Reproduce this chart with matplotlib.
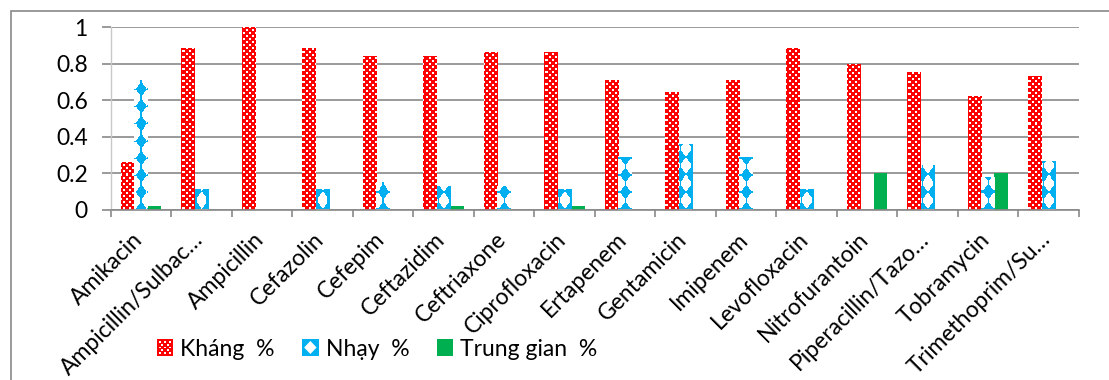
import numpy as np
import matplotlib.pyplot as plt
from matplotlib.patches import Rectangle, Polygon
from matplotlib.legend_handler import HandlerBase
from matplotlib.transforms import ScaledTranslation

# Tỷ lệ kháng / nhạy / trung gian theo từng kháng sinh
drugs = ['Amikacin', 'Ampicillin/Sulbac…', 'Ampicillin', 'Cefazolin', 'Cefepim',
         'Ceftazidim', 'Ceftriaxone', 'Ciprofloxacin', 'Ertapenem', 'Gentamicin',
         'Imipenem', 'Levofloxacin', 'Nitrofurantoin', 'Piperacillin/Tazo…',
         'Tobramycin', 'Trimethoprim/Su…']
khang = [0.26, 0.885, 1.0, 0.888, 0.844, 0.844, 0.866, 0.862, 0.709, 0.643,
         0.709, 0.886, 0.80, 0.756, 0.621, 0.732]
nhay = [0.71, 0.11, 0.0, 0.11, 0.15, 0.13, 0.13, 0.11, 0.29, 0.357,
        0.29, 0.11, 0.0, 0.243, 0.176, 0.265]
trung_gian = [0.02, 0.0, 0.0, 0.0, 0.0, 0.02, 0.0, 0.02, 0.0, 0.0,
              0.0, 0.0, 0.20, 0.0, 0.20, 0.0]
series_labels = ['Kháng  %', 'Nhạy  %', 'Trung gian  %']
y_ticks = [0, 0.2, 0.4, 0.6, 0.8, 1.0]
y_ticklabels = ['0', '0.2', '0.4', '0.6', '0.8', '1']

RED = '#ff0000'
BLUE = '#00b0f0'
GREEN = '#00b050'
GRID = '#898989'

plt.rcParams['font.family'] = ['Lato', 'Open Sans', 'DejaVu Sans']
FS = 16.5

W, H, DPI = 1109, 380, 100
fig = plt.figure(figsize=(W / DPI, H / DPI), dpi=DPI)

# vùng vẽ tính theo pixel
left_px, right_px, top_px, bot_px = 110.7, 1078.5, 27.3, 209.5
ax = fig.add_axes([left_px / W, 1 - bot_px / H,
                   (right_px - left_px) / W, (bot_px - top_px) / H])

# khung viền biểu đồ (chỉ thấy cạnh trái và cạnh trên)
fig.add_artist(Rectangle((10.7 / W, -0.2), 1.5, 1.2 - 11 / H, fill=False,
                         edgecolor=GRID, linewidth=1.2,
                         transform=fig.transFigure, clip_on=False))

n = len(drugs)
x = np.arange(n)
bw = 1 / 4.5
bars_k = ax.bar(x - bw, khang, bw, color=RED, linewidth=0, zorder=2)
bars_n = ax.bar(x, nhay, bw, color='white', linewidth=0, zorder=2)
bars_t = ax.bar(x + bw, trung_gian, bw, color=GREEN, linewidth=0, zorder=2)

# họa tiết điểm ảnh cho cột: chấm trắng trên nền đỏ, hình thoi xanh trên nền trắng
ncols = int(round(right_px - left_px))
nrows = int(round(bot_px - top_px))
px = left_px + (np.arange(ncols) + 0.5) * (right_px - left_px) / ncols
py = top_px + (np.arange(nrows) + 0.5) * (bot_px - top_px) / nrows
PX, PY = np.meshgrid(px, py)
xi, yi = np.floor(PX).astype(int), np.floor(PY).astype(int)

dots = (((xi % 6) < 2) & ((yi % 6) < 2)) | ((((xi + 3) % 6) < 2) & (((yi + 3) % 6) < 2))
tex_red = np.zeros((nrows, ncols, 3))
tex_red[:] = (1.0, 0.0, 0.0)
tex_red[dots] = (1.0, 1.0, 1.0)

blue_x0 = left_px + 0.5 * (right_px - left_px) / n
dx = ((PX - blue_x0 + 5.5) % 11) - 5.5
dy = ((PY - bot_px + 8.5) % 17) - 8.5
diamond = (np.abs(dx) / 5.6 + np.abs(dy) / 7.6 <= 1) | (np.abs(dx) <= 0.8)
tex_blue = np.ones((nrows, ncols, 3))
tex_blue[diamond] = (0.0, 0.69, 0.94)

for bars, tex in ((bars_k, tex_red), (bars_n, tex_blue)):
    for bar in bars:
        if bar.get_height() <= 0:
            continue
        im = ax.imshow(tex, extent=(-0.5, n - 0.5, 0, 1), aspect='auto',
                       interpolation='nearest', origin='upper', zorder=2.1)
        im.set_clip_path(bar)

ax.set_xlim(-0.5, n - 0.5)
ax.set_ylim(0, 1)
ax.set_aspect('auto')

# lưới và trục
ax.set_axisbelow(True)
ax.yaxis.grid(True, color=GRID, linewidth=1.2)
for side in ('top', 'right'):
    ax.spines[side].set_visible(False)
ax.spines['left'].set_color('#c8c8c8')
ax.spines['left'].set_linewidth(1.0)
ax.spines['bottom'].set_color(GRID)
ax.spines['bottom'].set_linewidth(1.2)

ax.set_yticks(y_ticks, y_ticklabels)
ax.tick_params(axis='y', length=6.5, width=1.2, color=GRID, pad=10,
               labelsize=FS, labelcolor='black')

ax.set_xticks(x, drugs)
ax.set_xticks(np.arange(n + 1) - 0.5, minor=True)
ax.tick_params(axis='x', which='major', length=0, pad=19, labelsize=FS)
ax.tick_params(axis='x', which='minor', length=5, width=1.2, color=GRID)
shift = ScaledTranslation(-1 / 72, 0, fig.dpi_scale_trans)
for lbl in ax.get_xticklabels():
    lbl.set_rotation(45)
    lbl.set_ha('right')
    lbl.set_va('center')
    lbl.set_rotation_mode('anchor')
    lbl.set_transform(lbl.get_transform() + shift)


class SwatchHandler(HandlerBase):
    """Ô vuông chú thích có họa tiết giống cột."""

    def __init__(self, kind):
        super().__init__()
        self.kind = kind

    def create_artists(self, legend, orig_handle, xdescent, ydescent,
                       width, height, fontsize, trans):
        s = height
        x0, y0 = -xdescent + (width - s) / 2, -ydescent
        arts = []
        if self.kind == 'red':
            arts.append(Rectangle((x0, y0), s, s, facecolor=RED, linewidth=0, transform=trans))
            d = 0.11 * s
            pts = [(a, b) for a in (0.17, 0.5, 0.83) for b in (0.17, 0.5, 0.83)]
            pts += [(a, b) for a in (0.33, 0.67) for b in (0.33, 0.67)]
            for a, b in pts:
                arts.append(Rectangle((x0 + a * s - d / 2, y0 + b * s - d / 2), d, d,
                                      facecolor='white', linewidth=0, transform=trans))
        elif self.kind == 'blue':
            arts.append(Rectangle((x0, y0), s, s, facecolor=BLUE, linewidth=0, transform=trans))
            arts.append(Polygon([(x0 + 0.5 * s, y0 + 0.1 * s), (x0 + 0.88 * s, y0 + 0.5 * s),
                                 (x0 + 0.5 * s, y0 + 0.9 * s), (x0 + 0.12 * s, y0 + 0.5 * s)],
                                closed=True, facecolor='white', linewidth=0, transform=trans))
        else:
            arts.append(Rectangle((x0, y0), s, s, facecolor=GREEN, linewidth=0, transform=trans))
        return arts


handles = [bars_k, bars_n, bars_t]
fig.legend(handles, series_labels, loc='center', bbox_to_anchor=(377 / W, 31 / H),
           ncol=3, frameon=False, fontsize=FS, handlelength=0.72, handleheight=0.72,
           handletextpad=0.3, columnspacing=1.2, borderpad=0,
           handler_map={bars_k: SwatchHandler('red'), bars_n: SwatchHandler('blue'),
                        bars_t: SwatchHandler('green')})

fig.savefig('out.png', dpi=DPI)
